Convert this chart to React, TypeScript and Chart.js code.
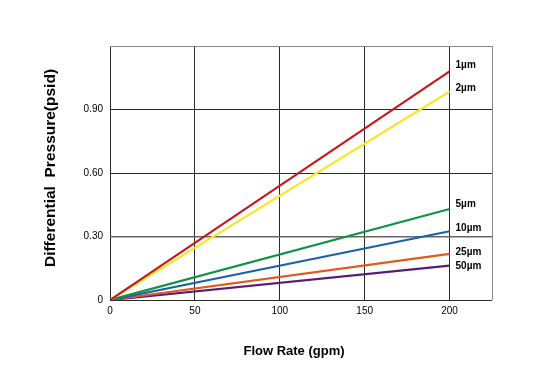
import React, { useEffect, useRef } from "react";
import { Chart, registerables } from "chart.js";

Chart.register(...registerables);

const flowRates = [0, 200];
const seriesNames = ["1µm", "2µm", "5µm", "10µm", "25µm", "50µm"];
const series1 = [0, 1.08];
const series2 = [0, 0.985];
const series5 = [0, 0.43];
const series10 = [0, 0.325];
const series25 = [0, 0.218];
const series50 = [0, 0.162];
const seriesColors = ["#c8171e", "#f5e82a", "#13904a", "#1a62a8", "#e05a1c", "#5a1a7c"];
const labelOffsets = [-6, -3, -5, -3, -2, 1];
const yTickValues = [0, 0.3, 0.6, 0.9, 1.2];
const yTickLabels = ["0", "0.30", "0.60", "0.90", ""];
const xTickValues = [0, 50, 100, 150, 200, 225];
const xTickLabels = ["0", "50", "100", "150", "200", ""];

const FONT = "'Liberation Sans', Arial, sans-serif";

export default function App() {
  const ref = useRef<HTMLCanvasElement>(null);
  useEffect(() => {
    document.body.style.margin = "0";
    const all = [series1, series2, series5, series10, series25, series50];
    const labelPlugin = {
      id: "labels",
      afterDatasetsDraw(chart: any) {
        const ctx = chart.ctx;
        const xs = chart.scales.x;
        const ys = chart.scales.y;
        ctx.save();
        ctx.fillStyle = "#000";
        ctx.font = `bold 10px ${FONT}`;
        ctx.textAlign = "left";
        ctx.textBaseline = "middle";
        all.forEach((s, i) => {
          const px = xs.getPixelForValue(flowRates[flowRates.length - 1]);
          const py = ys.getPixelForValue(s[s.length - 1]);
          ctx.fillText(seriesNames[i], px + 6, py + labelOffsets[i]);
        });
        // titles
        const ca = chart.chartArea;
        ctx.font = `bold 13px ${FONT}`;
        ctx.textAlign = "center";
        ctx.fillText("Flow Rate (gpm)", (ca.left + ca.right) / 2 - 7, 351);
        ctx.translate(51, 168);
        ctx.rotate(-Math.PI / 2);
        ctx.font = `bold 15.5px ${FONT}`;
        ctx.fillText("Differential  Pressure(psid)", 0, 0);
        ctx.restore();
      },
    };
    const chart = new Chart(ref.current!, {
      type: "line",
      data: {
        datasets: all.map((s, i) => ({
          label: seriesNames[i],
          data: s.map((v, j) => ({ x: flowRates[j], y: v })),
          borderColor: seriesColors[i],
          borderWidth: 2.2,
          pointRadius: 0,
          fill: false,
        })),
      },
      options: {
        responsive: false,
        animation: false,
        layout: { padding: { left: 0, right: 65, top: 46, bottom: 0 } },
        plugins: { legend: { display: false }, tooltip: { enabled: false } },
        scales: {
          x: {
            type: "linear",
            min: 0,
            max: 225,
            afterBuildTicks: (s: any) => {
              s.ticks = xTickValues.map((v) => ({ value: v }));
            },
            afterFit: (s: any) => {
              s.height = 74;
            },
            ticks: {
              autoSkip: false,
              maxRotation: 0,
              color: "#000",
              font: { family: FONT, size: 10 },
              padding: 5,
              callback: (_v: any, i: number) => xTickLabels[i],
            },
            grid: {
              drawTicks: false,
              color: (c: any) => (c.tick && c.tick.value === 225 ? "#888" : "#2a2a2a"),
              lineWidth: 1,
            },
            border: { display: false },
          },
          y: {
            min: 0,
            max: 1.2,
            afterBuildTicks: (s: any) => {
              s.ticks = yTickValues.map((v) => ({ value: v }));
            },
            afterFit: (s: any) => {
              s.width = 110;
            },
            ticks: {
              color: "#000",
              font: { family: FONT, size: 10 },
              padding: 7,
              callback: (_v: any, i: number) => yTickLabels[i],
            },
            grid: {
              drawTicks: false,
              color: (c: any) =>
                c.tick && c.tick.value === 1.2 ? "#888" : c.tick && c.tick.value === 0.3 ? "#666" : "#2a2a2a",
              lineWidth: (c: any) => (c.tick && c.tick.value === 0.3 ? 1.5 : 1),
            },
            border: { display: false },
          },
        },
      },
      plugins: [labelPlugin],
    });
    return () => chart.destroy();
  }, []);
  return <canvas ref={ref} width={557} height={374} style={{ display: "block" }} />;
}
